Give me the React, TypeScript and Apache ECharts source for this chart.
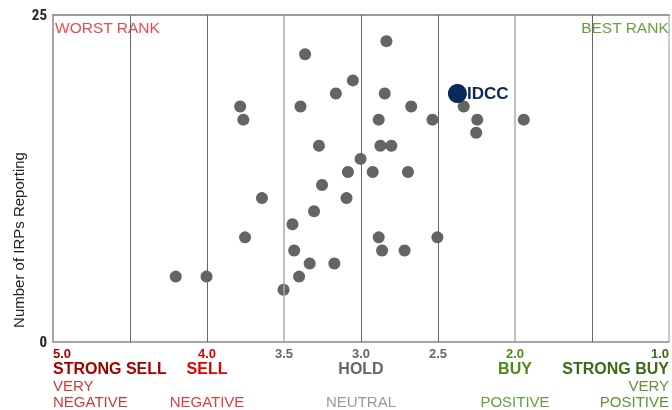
import React, { useEffect, useRef } from "react";
import * as echarts from "echarts";

// Peer points: [average rating, number of IRPs reporting]
const peerPoints: [number, number][] = [
  [2.835, 23], [3.363, 22], [3.053, 20], [3.163, 19], [2.846, 19],
  [3.785, 18], [3.393, 18], [2.674, 18], [2.333, 18],
  [3.764, 17], [2.885, 17], [2.536, 17], [2.245, 17], [1.943, 17],
  [2.252, 16], [3.273, 15], [2.874, 15], [2.803, 15], [3.003, 14],
  [3.085, 13], [2.924, 13], [2.695, 13], [3.253, 12], [3.643, 11],
  [3.094, 11], [3.305, 10], [3.445, 9], [3.753, 8], [2.885, 8],
  [2.504, 8], [3.434, 7], [2.863, 7], [2.717, 7], [3.333, 6],
  [3.173, 6], [4.203, 5], [4.003, 5], [3.402, 5], [3.503, 4],
];
const focusName = "IDCC";
const focusPoint: [number, number] = [2.374, 19];

const gridLines = [4.5, 4.0, 3.5, 3.0, 2.5, 2.0, 1.5];
const lightLines = [3.5, 2.0];

const tickValues = [5.0, 4.5, 4.0, 3.5, 3.0, 2.5, 2.0, 1.5, 1.0];
const tickLabels = ["5.0", "4.5", "4.0", "3.5", "3.0", "2.5", "2.0", "1.5", "1.0"];
const ratingNames = ["STRONG SELL", "", "SELL", "", "HOLD", "", "BUY", "", "STRONG BUY"];
const sentimentTop = ["VERY", "", "", "", "", "", "", "", "VERY"];
const sentimentBottom = ["NEGATIVE", "", "NEGATIVE", "", "NEUTRAL", "", "POSITIVE", "", "POSITIVE"];
const numColors = ["#a30000", "#e00000", "#e00000", "#666666", "#666666", "#666666", "#4a8c1c", "#3a6a16", "#3a6a16"];
const nameColors = ["#a30000", "", "#e00000", "", "#666666", "", "#4a8c1c", "", "#3a6a16"];
const wordColors = ["#d03a3a", "", "#e83c3c", "", "#9a9a9a", "", "#62a040", "", "#5a9638"];

const yTicks = [0, 25];

const NARROW = '"Liberation Sans Narrow", "Roboto Condensed", "DejaVu Sans Condensed", Arial, sans-serif';
const SANS = '"Liberation Sans", Arial, Helvetica, sans-serif';

export default function App() {
  const ref = useRef<HTMLDivElement>(null);
  useEffect(() => {
    if (!ref.current) return;
    const chart = echarts.init(ref.current, null, { renderer: "svg" });

    const rich: Record<string, any> = {};
    tickValues.forEach((_, i) => {
      rich["n" + i] = { color: numColors[i], fontSize: 13, fontWeight: "bold", fontFamily: SANS, lineHeight: 14 };
      rich["r" + i] = { color: nameColors[i] || "#666", fontSize: 16, fontWeight: "bold", fontFamily: SANS, lineHeight: 17 };
      rich["w" + i] = { color: wordColors[i] || "#999", fontSize: 15, fontFamily: SANS, lineHeight: 16 };
    });

    const formatter = (v: number) => {
      const i = tickValues.findIndex((t) => Math.abs(t - v) < 1e-6);
      if (i < 0) return "";
      const lines = [`{n${i}|${tickLabels[i]}}`];
      if (ratingNames[i] || sentimentBottom[i]) {
        lines.push(ratingNames[i] ? `{r${i}|${ratingNames[i]}}` : `{r${i}| }`);
        lines.push(sentimentTop[i] ? `{w${i}|${sentimentTop[i]}}` : `{w${i}| }`);
        lines.push(sentimentBottom[i] ? `{w${i}|${sentimentBottom[i]}}` : `{w${i}| }`);
      }
      return lines.join("\n");
    };

    chart.setOption({
      animation: false,
      grid: { left: 53, right: 0, top: 15, bottom: 68, show: true, borderColor: "#9a9a9a", borderWidth: 1 },
      xAxis: [
        {
          type: "value",
          min: 1,
          max: 5,
          interval: 0.5,
          inverse: true,
          axisLine: { show: true, lineStyle: { color: "#9a9a9a", width: 1.5 } },
          axisTick: { show: false },
          splitLine: { show: false },
          axisLabel: {
            margin: 4,
            formatter,
            rich,
            verticalAlign: "top",
            alignMinLabel: "right",
            alignMaxLabel: "left",
            showMinLabel: true,
            showMaxLabel: true,
          },
        },
        {
          type: "value",
          position: "top",
          min: 1,
          max: 5,
          inverse: true,
          axisLine: { show: true, lineStyle: { color: "#999999", width: 2 } },
          axisTick: { show: false },
          axisLabel: { show: false },
          splitLine: { show: false },
        },
      ],
      yAxis: {
        type: "value",
        min: yTicks[0],
        max: yTicks[1],
        interval: 25,
        axisLine: { show: true, lineStyle: { color: "#9a9a9a", width: 1.5 } },
        axisTick: { show: false },
        splitLine: { show: false },
        axisLabel: { color: "#222", fontSize: 15, fontWeight: "bold", fontFamily: NARROW, margin: 6 },
      },
      graphic: [
        {
          type: "text",
          left: 55,
          top: 19,
          style: { text: "WORST RANK", fill: "#f04848", fontSize: 15.5, fontFamily: SANS },
        },
        {
          type: "text",
          right: 3,
          top: 19,
          style: { text: "BEST RANK", fill: "#6aa040", fontSize: 15.5, fontFamily: SANS },
        },
        {
          type: "text",
          x: 11,
          y: 240,
          rotation: Math.PI / 2,
          style: {
            text: "Number of IRPs Reporting",
            fill: "#222",
            fontSize: 15,
            fontFamily: SANS,
            align: "center",
            verticalAlign: "top",
          },
        },
      ],
      series: [
        {
          type: "scatter",
          data: peerPoints,
          symbolSize: 12,
          itemStyle: { color: "#646464", opacity: 1 },
          silent: true,
          markLine: {
            silent: true,
            symbol: "none",
            label: { show: false },
            data: gridLines.map((v) => ({
              xAxis: v,
              lineStyle: {
                color: lightLines.includes(v) ? "#ababab" : "#666666",
                width: lightLines.includes(v) ? 1.5 : 1,
                type: "solid",
              },
            })),
          },
          z: 3,
        },
        {
          type: "scatter",
          data: [{ value: focusPoint, name: focusName }],
          symbolSize: 19,
          itemStyle: { color: "#0a2858", opacity: 1 },
          label: {
            show: true,
            position: "right",
            distance: 0,
            formatter: focusName,
            color: "#0a2858",
            fontSize: 17,
            fontWeight: "bold",
            fontFamily: SANS,
          },
          z: 5,
        },
      ],
    });
    return () => chart.dispose();
  }, []);
  return (
    <div
      ref={ref}
      style={{ position: "fixed", left: 0, top: 0, width: 672, height: 410 }}
    />
  );
}
